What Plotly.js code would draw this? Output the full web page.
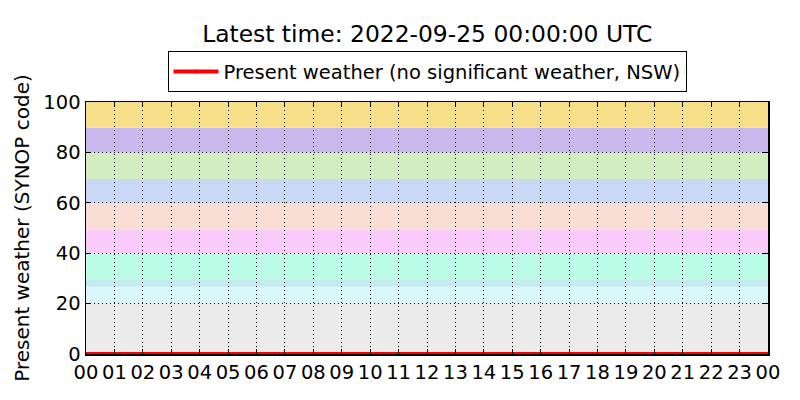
<!DOCTYPE html>
<html>
<head>
<meta charset="utf-8">
<script src="https://cdn.plot.ly/plotly-3.0.1.min.js"></script>
<style>html,body{margin:0;padding:0;background:#fff;}#chart{width:800px;height:400px;}</style>
</head>
<body>
<div id="chart"></div>
<script>
// Hours of the day (0..24) and present weather code values
const hours = [0,1,2,3,4,5,6,7,8,9,10,11,12,13,14,15,16,17,18,19,20,21,22,23,24];
const presentWeather = [0,0,0,0,0,0,0,0,0,0,0,0,0,0,0,0,0,0,0,0,0,0,0,0,0];
const hourLabels = ["00","01","02","03","04","05","06","07","08","09","10","11","12","13","14","15","16","17","18","19","20","21","22","23","00"];
// SYNOP code background bands
const bandLow  = [0, 20, 26.7, 29.4, 40, 49.5, 59.8, 69.4, 80, 89.8];
const bandHigh = [20, 26.7, 29.4, 40, 49.5, 59.8, 69.4, 80, 89.8, 100];
const bandColors = ["#ebebeb","#d8f8fc","#c4ebf2","#bbfde6","#fbcbfb","#f8ded4","#c9d8f5","#d3ecc0","#c9b8ee","#f8df8a"];

const shapes = bandLow.map((lo, i) => ({
  type: 'rect', xref: 'paper', yref: 'y', x0: 0, x1: 1, y0: lo, y1: bandHigh[i],
  fillcolor: bandColors[i], line: {width: 0}, layer: 'below'
}));

const trace = {
  x: hours, y: presentWeather, mode: 'lines+markers', type: 'scatter',
  name: 'Present weather (no significant weather, NSW)',
  line: {color: '#ff0000', width: 4},
  marker: {color: '#ff0000', size: 4},
  cliponaxis: true
};

const layout = {
  width: 800, height: 400,
  margin: {l: 86, r: 32, t: 102, b: 46},
  paper_bgcolor: '#ffffff', plot_bgcolor: '#ffffff',
  font: {family: 'DejaVu Sans, sans-serif', size: 19.5, color: '#000'},
  title: {text: 'Latest time: 2022-09-25 00:00:00 UTC', font: {size: 23.4},
          x: 0.534, xanchor: 'center', y: 0.915, yanchor: 'middle', yref: 'container'},
  showlegend: true,
  legend: {x: 0.5, xanchor: 'center', y: 1.038, yanchor: 'bottom', orientation: 'h',
           itemwidth: 45,
           bordercolor: '#000', borderwidth: 1, bgcolor: '#fff', font: {size: 19.5}},
  xaxis: {
    range: [0, 24], tickvals: hours, ticktext: hourLabels,
    ticks: 'inside', ticklen: 5, tickcolor: '#000', mirror: 'ticks',
    showline: true, linecolor: '#000', linewidth: 1.5,
    showgrid: true, gridcolor: '#000', gridwidth: 1, griddash: '1px,3px',
    zeroline: false, tickfont: {size: 19.5}
  },
  yaxis: {
    range: [0, 100], tickvals: [0,20,40,60,80,100],
    ticks: 'inside', ticklen: 5, tickcolor: '#000', mirror: 'ticks',
    showline: true, linecolor: '#000', linewidth: 1.5,
    showgrid: true, gridcolor: '#000', gridwidth: 1, griddash: '1px,3px',
    zeroline: false, tickfont: {size: 19.5},
    title: {text: 'Present weather (SYNOP code)', font: {size: 20}, standoff: 8}
  },
  shapes: shapes
};

Plotly.newPlot('chart', [trace], layout, {displayModeBar: false, staticPlot: true});
</script>
</body>
</html>
